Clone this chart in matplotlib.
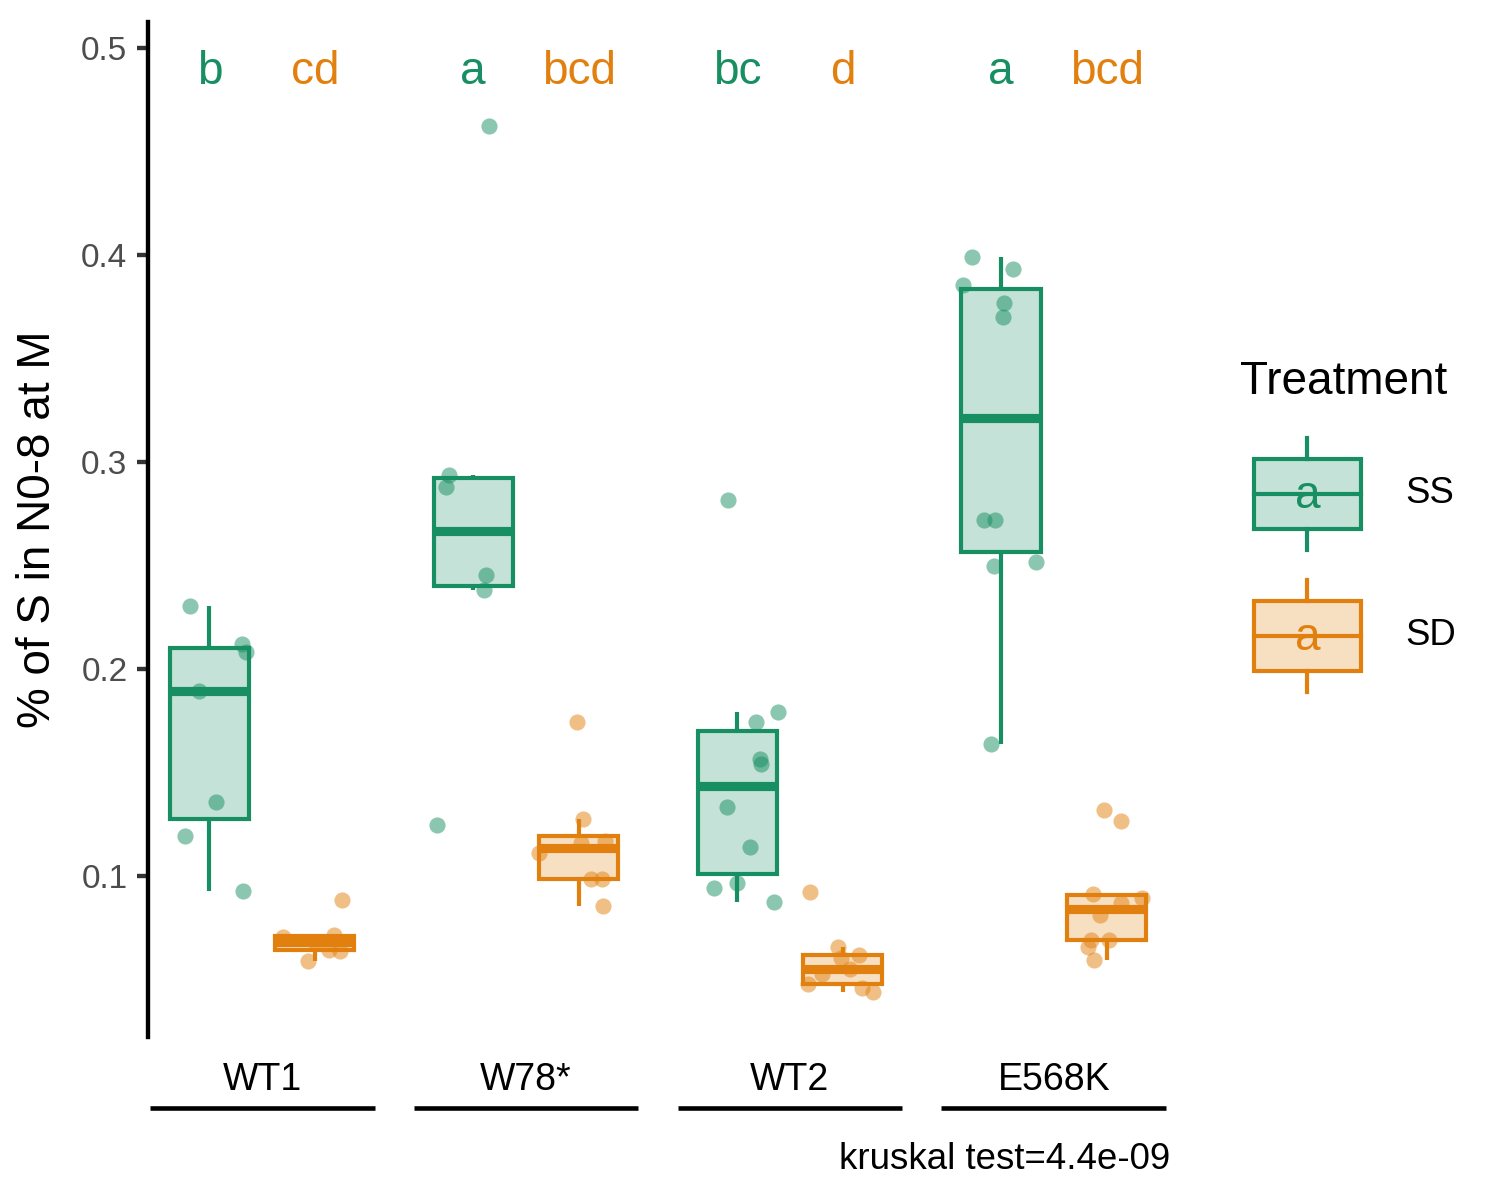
import numpy as np
import matplotlib
matplotlib.use("Agg")
import matplotlib.pyplot as plt
from matplotlib.colors import to_rgba
from matplotlib.patches import Patch, Rectangle
from matplotlib.lines import Line2D
from matplotlib.text import Text
from matplotlib.legend_handler import HandlerBase

plt.rcParams['font.family'] = ['Liberation Sans', 'DejaVu Sans']

# data
genotypes = ['WT1', 'W78*', 'WT2', 'E568K']
treatments = ['SS', 'SD']

ss_values = [
    [0.2304, 0.2121, 0.2082, 0.1894, 0.1357, 0.1193, 0.0928],
    [0.4623, 0.2937, 0.2879, 0.2454, 0.2382, 0.1246],
    [0.2816, 0.1744, 0.1792, 0.1565, 0.1541, 0.1333, 0.1140, 0.0942, 0.0966, 0.0874],
    [0.3991, 0.3933, 0.3858, 0.3767, 0.3701, 0.2722, 0.2722, 0.2496, 0.2515, 0.1637],
]
sd_values = [
    [0.0884, 0.0705, 0.0715, 0.0643, 0.0640, 0.0590, 0.0680],
    [0.1744, 0.1275, 0.1159, 0.1169, 0.1111, 0.0986, 0.0984, 0.0855],
    [0.0923, 0.0657, 0.0620, 0.0605, 0.0527, 0.0480, 0.0459, 0.0440, 0.0550],
    [0.1319, 0.1266, 0.0913, 0.0894, 0.0870, 0.0812, 0.0691, 0.0691, 0.0657, 0.0594],
]
# horizontal jitter of each point (x units), as seen in the figure
ss_jitter = [
    [-0.072, 0.125, 0.140, -0.038, 0.027, -0.091, 0.129],
    [0.061, -0.091, -0.102, 0.049, 0.042, -0.136],
    [-0.034, 0.072, 0.155, 0.087, 0.091, -0.038, 0.049, -0.087, 0.0, 0.140],
    [-0.110, 0.045, -0.144, 0.011, 0.008, -0.064, -0.023, -0.027, 0.133, -0.038],
]
sd_jitter = [
    [0.102, -0.121, 0.072, 0.053, 0.095, -0.027, 0.0],
    [-0.008, 0.015, 0.008, 0.098, -0.152, 0.045, 0.087, 0.091],
    [-0.125, -0.019, 0.061, -0.008, -0.080, -0.133, 0.072, 0.114, 0.027],
    [-0.011, 0.053, -0.053, 0.133, 0.053, -0.027, -0.061, 0.008, -0.072, -0.049],
]
ss_letters = ['b', 'a', 'bc', 'a']
sd_letters = ['cd', 'bcd', 'd', 'bcd']
kruskal_p = '4.4e-09'

colors = {'SS': '#178F62', 'SD': '#E2800F'}


class BoxKeyHandler(HandlerBase):
    # legend key: small boxplot with an "a" on top, like ggplot's key
    def create_artists(self, legend, orig_handle, xdescent, ydescent,
                       width, height, fontsize, trans):
        col = orig_handle.get_edgecolor()
        x0, y0 = -xdescent, -ydescent
        bw, wh, bh = 0.79 * width, 1.067 * height, 0.667 * height
        cx, cy = x0 + width / 2, y0 + height / 2
        box = Rectangle((cx - bw / 2, cy - bh / 2), bw, bh,
                        facecolor=orig_handle.get_facecolor(), edgecolor=col,
                        linewidth=1.0, joinstyle='miter', transform=trans)
        med = Line2D([cx - bw / 2, cx + bw / 2], [cy, cy], color=col, lw=1.0, transform=trans)
        w1 = Line2D([cx, cx], [cy + bh / 2, cy + wh / 2], color=col, lw=1.0, transform=trans)
        w2 = Line2D([cx, cx], [cy - bh / 2, cy - wh / 2], color=col, lw=1.0, transform=trans)
        txt = Text(cx, cy - 0.02 * height, 'a', color=col, ha='center', va='center',
                   fontsize=11, transform=trans)
        return [box, med, w1, w2, txt]


fig = plt.figure(figsize=(5, 4), dpi=300)
ax = fig.add_axes([0.0987, 0.1358, 0.6813, 0.8458])

x = np.arange(1, len(genotypes) + 1)
dodge = 0.2
groups = [
    (ss_values, ss_jitter, ss_letters, -dodge, colors['SS']),
    (sd_values, sd_jitter, sd_letters, dodge, colors['SD']),
]
for vals, jit, letters, offset, col in groups:
    pos = x + offset
    ax.boxplot(vals, positions=pos, widths=0.3, patch_artist=True,
               showfliers=False, showcaps=False, whis=1.5, manage_ticks=False,
               boxprops=dict(facecolor=to_rgba(col, 0.25), edgecolor=col,
                             linewidth=1.0, joinstyle='miter'),
               whiskerprops=dict(color=col, linewidth=1.0, solid_capstyle='butt'),
               medianprops=dict(color=col, linewidth=2.2, solid_capstyle='butt'))
    for p, v, j in zip(pos, vals, jit):
        ax.scatter(p + np.array(j), v, s=15, color=col, alpha=0.5,
                   linewidths=0, zorder=3)
    for p, t in zip(pos, letters):
        ax.text(p, 0.4885, t, color=col, ha='center', va='center', fontsize=11)

ax.set_xlim(0.568, 4.44)
ax.set_ylim(0.0222, 0.5126)
ax.set_yticks([0.1, 0.2, 0.3, 0.4, 0.5])
ax.set_yticklabels(['0.1', '0.2', '0.3', '0.4', '0.5'])
for s in ['top', 'right', 'bottom']:
    ax.spines[s].set_visible(False)
ax.spines['left'].set_linewidth(1.05)
ax.tick_params(axis='y', length=2.75, width=1.05, color='#333333',
               labelsize=8, labelcolor='#4D4D4D', pad=2.2)
ax.set_xticks(x)
ax.set_xticklabels(genotypes)
ax.tick_params(axis='x', length=0, pad=6, labelsize=9, labelcolor='black')
ax.set_ylabel('% of S in N0-8 at M', fontsize=11, labelpad=5)

# group lines under the genotype labels
for xi in x:
    ax.plot([xi - 0.426, xi + 0.426], [-0.07, -0.07], color='black', lw=1.1,
            solid_capstyle='butt', transform=ax.get_xaxis_transform(), clip_on=False)
ax.text(1.0, -0.121, 'kruskal test=' + kruskal_p, transform=ax.transAxes,
        ha='right', va='center', fontsize=8.8)

handles = [Patch(facecolor=to_rgba(colors[t], 0.25), edgecolor=colors[t]) for t in treatments]
leg = fig.legend(handles, treatments, handler_map={Patch: BoxKeyHandler()},
                 title='Treatment', loc='upper left',
                 bbox_to_anchor=(1240 / 1500, 1 - 360 / 1200),
                 frameon=False, fontsize=8.8, title_fontsize=11,
                 handlelength=3.68, handleheight=4.03, labelspacing=1.01,
                 handletextpad=0.82, borderpad=0, borderaxespad=0,
                 alignment='left')

fig.savefig('out.png', dpi=300)
